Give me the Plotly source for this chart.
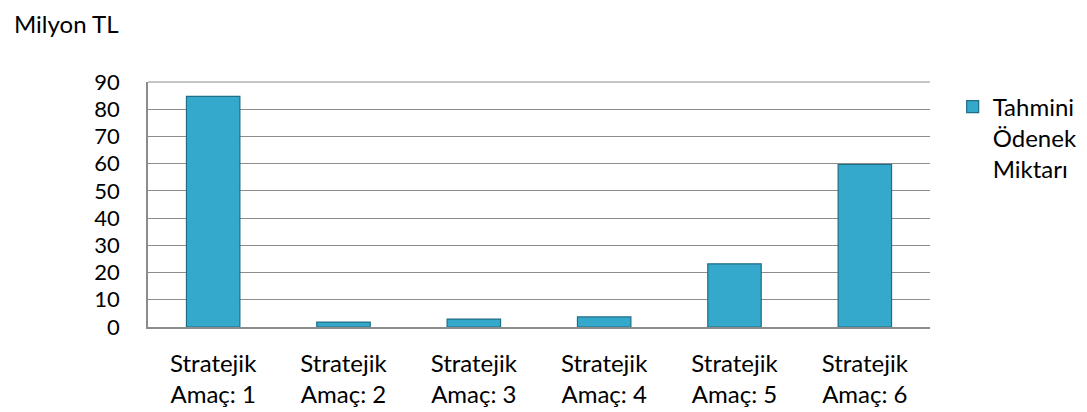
import plotly.graph_objects as go

categories = ["Stratejik<br>Amaç: 1", "Stratejik<br>Amaç: 2", "Stratejik<br>Amaç: 3",
              "Stratejik<br>Amaç: 4", "Stratejik<br>Amaç: 5", "Stratejik<br>Amaç: 6"]
values = [84.7, 1.8, 2.9, 3.7, 23.2, 59.7]
series_name = "Tahmini<br>Ödenek<br>Miktarı"
y_ticks = [0, 10, 20, 30, 40, 50, 60, 70, 80, 90]

FONT = "Lato, sans-serif"
FS = 24

fig = go.Figure()
fig.add_trace(go.Bar(
    x=categories, y=values, name=series_name,
    marker=dict(color="#34A9CB", line=dict(color="#1F6E86", width=1.2)),
    width=0.41, showlegend=True,
))

fig.update_layout(
    width=1087, height=412,
    margin=dict(l=140, r=157, t=74, b=86),
    paper_bgcolor="white", plot_bgcolor="white",
    font=dict(family=FONT, size=FS, color="black"),
    showlegend=True,
    legend=dict(x=1.029, y=0.99, xanchor="left", yanchor="top",
                valign="top", font=dict(size=FS, family=FONT),
                itemwidth=30, bgcolor="rgba(0,0,0,0)"),
    xaxis=dict(showline=True, linecolor="#8C8C8C", linewidth=1.5,
               showgrid=False, ticks="", ticklabelstandoff=14,
               tickfont=dict(size=FS, family=FONT)),
    yaxis=dict(range=[0, 90], tickvals=y_ticks, showline=True,
               linecolor="#8C8C8C", linewidth=1.5, showgrid=True,
               gridcolor="#8C8C8C", gridwidth=1, ticks="",
               ticklabelstandoff=22, zeroline=False,
               tickfont=dict(size=22, family=FONT)),
    annotations=[dict(text="Milyon TL", xref="paper", yref="paper",
                      x=-0.174, y=1.238, xanchor="left", yanchor="middle",
                      showarrow=False, font=dict(size=FS, family=FONT))],
)
fig.add_shape(type="line", xref="paper", yref="paper", x0=0, x1=1, y0=1, y1=1,
              line=dict(color="#8C8C8C", width=1), layer="below")

fig.write_html("out.html")
